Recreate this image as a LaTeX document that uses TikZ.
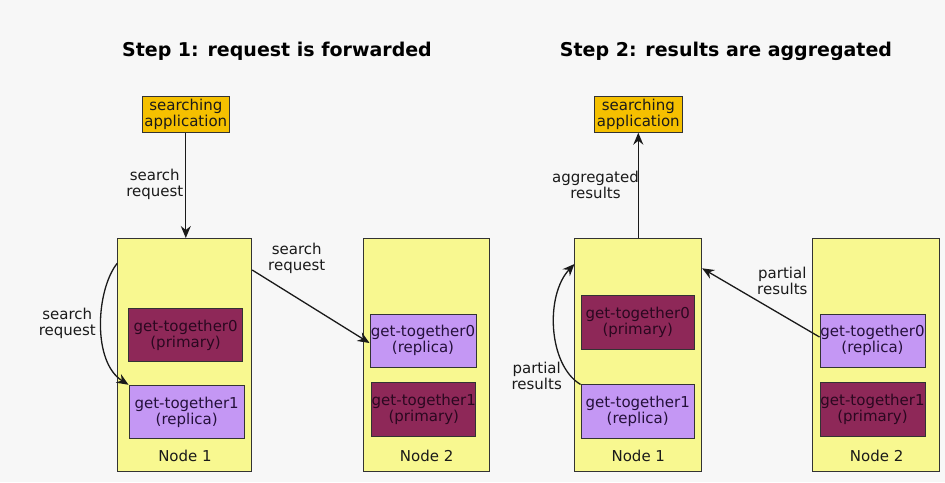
\documentclass[tikz,border=0pt]{standalone}
\usepackage{fontspec}
\setmainfont{DejaVu Sans}
\usetikzlibrary{arrows.meta}

\definecolor{bgc}{HTML}{F7F7F7}
\definecolor{appc}{HTML}{F5C000}
\definecolor{hostc}{HTML}{F8F890}
\definecolor{primc}{HTML}{8E2858}
\definecolor{replc}{HTML}{C497F4}
\definecolor{edgec}{HTML}{333333}
\definecolor{inkc}{HTML}{1A1A1A}
\definecolor{primtext}{HTML}{2A0820}
\definecolor{repltext}{HTML}{24103A}

\begin{document}
\begin{tikzpicture}[x=1pt,y=-1pt,
  every node/.style={font=\fontsize{15}{16}\selectfont, text=inkc},
  box/.style={draw=edgec, line width=1pt, inner sep=0pt, rectangle},
  appbox/.style={box, fill=appc, minimum width=87pt, minimum height=36pt},
  hostbox/.style={box, fill=hostc, minimum width=#1, minimum height=233pt},
  primbox/.style={box, fill=primc, minimum width=#1, minimum height=53.5pt},
  replbox/.style={box, fill=replc, minimum width=#1, minimum height=53.5pt},
  btext/.style={align=center, inner sep=0pt},
  primlabel/.style={btext, text=primtext},
  repllabel/.style={btext, text=repltext},
  flow/.style={-{Stealth[length=12pt,width=10pt,inset=4pt]}, line width=1.3pt, draw=inkc},
  steptitle/.style={font=\fontsize{19}{22}\selectfont\bfseries, anchor=base, text=black}
]
% canvas
\fill[bgc] (0,0) rectangle (945,482);
\useasboundingbox (0,0) rectangle (945,482);

% ---------- step 1 ----------
\node[steptitle] (t1) at (277,56.7) {Step 1: request is forwarded};

\node[appbox] (app1) at (185.8,114.2) {};
\node[btext] (app1t) at (app1) {searching\\application};

\node[hostbox=134pt] (n1a) at (184.7,355) {};
\node[primbox=113.3pt] (p0a) at (185.6,335) {};
\node[primlabel] (p0at) at (p0a) {get-together0\\(primary)};
\node[replbox=115.3pt] (r1a) at (186.7,412) {};
\node[repllabel] (r1at) at (r1a) {get-together1\\(replica)};
\node[btext] (n1al) at (185,455.7) {Node 1};

\node[hostbox=126pt] (n2a) at (426.3,355) {};
\node[replbox=106pt] (r0b) at (423,340.8) {};
\node[repllabel] (r0bt) at (r0b) {get-together0\\(replica)};
\node[primbox=104.3pt] (p1b) at (423.8,409.7) {};
\node[primlabel] (p1bt) at (p1b) {get-together1\\(primary)};
\node[btext] (n2al) at (426.7,455.7) {Node 2};

\draw[flow] (app1.south) -- (app1.south |- n1a.north);
\node[btext, anchor=east] (l1) at (183.5,184.7) {search\\request};

\draw[flow] (n1a.west |- 0,263.3) .. controls (96,290) and (92,362) .. (r1a.north west);
\node[btext, anchor=east] (l2) at (96,323) {search\\request};

\draw[flow] (n1a.east |- 0,270) -- (r0b.west |- 0,343);
\node[btext] (l3) at (296.7,258) {search\\request};

% ---------- step 2 ----------
\node[steptitle] (t2) at (726,56.7) {Step 2: results are aggregated};

\node[appbox, minimum width=88pt] (app2) at (638.3,114.2) {};
\node[btext] (app2t) at (app2) {searching\\application};

\node[hostbox=126.7pt] (n1c) at (638.3,355) {};
\node[primbox=113.3pt] (p0c) at (637.7,322.7) {};
\node[primlabel] (p0ct) at (p0c) {get-together0\\(primary)};
\node[replbox=113.3pt] (r1c) at (637.7,411.7) {};
\node[repllabel] (r1ct) at (r1c) {get-together1\\(replica)};
\node[btext] (n1cl) at (638.3,455.7) {Node 1};

\node[hostbox=126.6pt] (n2c) at (876,355) {};
\node[replbox=105pt] (r0d) at (872.5,340.8) {};
\node[repllabel] (r0dt) at (r0d) {get-together0\\(replica)};
\node[primbox=105pt] (p1d) at (872.5,409.4) {};
\node[primlabel] (p1dt) at (p1d) {get-together1\\(primary)};
\node[btext] (n2cl) at (876.7,455.7) {Node 2};

\draw[flow] (n1c.north) -- (app2.south);
\node[btext, anchor=east] (l4) at (639,184.7) {aggregated\\results};

\draw[flow] (r1c.north west) .. controls (548,365) and (545,295) .. (n1c.west |- 0,264);
\node[btext, anchor=east] (l5) at (562,376) {partial\\results};

\draw[flow] (r0d.west |- 0,337) -- (n1c.east |- 0,268.3);
\node[btext] (l6) at (782.3,281.3) {partial\\results};
\end{tikzpicture}
\end{document}
